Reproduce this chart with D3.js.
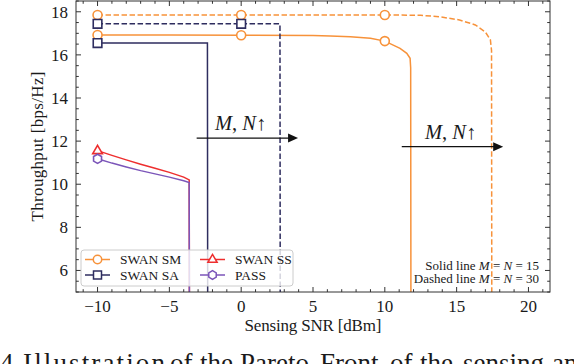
<!DOCTYPE html>
<html><head><meta charset="utf-8">
<script src="https://cdn.jsdelivr.net/npm/d3@7/dist/d3.min.js"></script>
<style>body{margin:0;background:#fff}svg{display:block}</style>
</head><body><svg id="c" width="574" height="364"></svg>
<script>
// ---- data ----
const smSolidX = [-10,-5,0,5,6.2,7.6,9.0,10,11.06,11.53,11.76,11.8,11.82];
const smSolidY = [16.92,16.92,16.91,16.9,16.88,16.84,16.77,16.64,16.3,16.07,15.84,15.4,3];
const smDashX = [-10,-5,0,5,10,12.5,13.9,15.2,16.3,17.0,17.35,17.43,17.45];
const smDashY = [17.85,17.85,17.85,17.85,17.85,17.84,17.76,17.62,17.39,17.06,16.7,16.2,3];
const saSolidX = [-10,-5,-2.35,-2.33];
const saSolidY = [16.55,16.55,16.55,3];
const saDashX = [-10,0,2.7,2.72];
const saDashY = [17.44,17.44,17.44,3];
const ssX = [-10,-9,-8,-7,-6,-5,-4,-3.62,-3.6];
const ssY = [11.56,11.34,11.13,10.93,10.74,10.55,10.33,10.2,3];
const passX = [-10,-9,-8,-7,-6,-5,-4,-3.62,-3.6];
const passY = [11.18,10.98,10.8,10.63,10.48,10.33,10.16,10.08,3];
const xTicks = [-10,-5,0,5,10,15,20];
const yTicks = [6,8,10,12,14,16,18];
const legendLabels = ["SWAN SM","SWAN SA","SWAN SS","PASS"];
const captionWords = ["4.","Illustration","of","the","Pareto","Front","of","the","sensing","and"];
const captionX = [0,23,170,200,240,320,390,420,463,552];

const colors = {sm:"#f7923a", sa:"#2e2d5f", ss:"#ee2e2e", pass:"#7b55b9"};

const svg = d3.select("#c");
const L=76,R=550,T=1,B=292;
const x = d3.scaleLinear().domain([-11.5,21.5]).range([L,R]);
const y = d3.scaleLinear().domain([5,18.5]).range([B,T]);

svg.append("defs").append("clipPath").attr("id","clip")
  .append("rect").attr("x",L).attr("y",T).attr("width",R-L).attr("height",B-T);

const g = svg.append("g").attr("clip-path","url(#clip)");
const line = d3.line().x(d=>x(d[0])).y(d=>y(d[1]));
const zip=(a,b)=>a.map((v,i)=>[v,b[i]]);

function sym(type,size){
  if(type==="hex"){
    const r=size; const pts=d3.range(6).map(i=>{const a=Math.PI/6+i*Math.PI/3;return [r*Math.cos(a),r*Math.sin(a)];});
    return "M"+pts.map(p=>p.join(",")).join("L")+"Z";
  }
  if(type==="circle") return d3.symbol(d3.symbolCircle, Math.PI*size*size)();
  if(type==="square") return `M${-size},${-size}H${size}V${size}H${-size}Z`;
  if(type==="tri"){ const s=size; return `M0,${-s*1.15}L${s*1.05},${s*0.65}L${-s*1.05},${s*0.65}Z`; }
}

const series = [
  {xs:smSolidX, ys:smSolidY, c:colors.sm, dash:null, m:"circle", mx:[-10,0,10], ms:4.5},
  {xs:smDashX, ys:smDashY, c:colors.sm, dash:"5.5,2.5", m:"circle", mx:[-10,0,10], ms:4.5},
  {xs:saSolidX, ys:saSolidY, c:colors.sa, dash:null, m:"square", mx:[-10], ms:4.3},
  {xs:saDashX, ys:saDashY, c:colors.sa, dash:"5.5,2.5", m:"square", mx:[-10,0], ms:4.3},
  {xs:ssX, ys:ssY, c:colors.ss, dash:null, m:"tri", mx:[-10], ms:4.6},
  {xs:passX, ys:passY, c:colors.pass, dash:null, m:"hex", mx:[-10], ms:4.6},
];
series.forEach(s=>{
  g.append("path").attr("d",line(zip(s.xs,s.ys))).attr("fill","none")
   .attr("stroke",s.c).attr("stroke-width",1.5).attr("stroke-dasharray",s.dash);
});
series.forEach(s=>{
  s.mx.forEach(mx=>{
    const i=s.xs.indexOf(mx);
    g.append("path").attr("d",sym(s.m,s.ms))
     .attr("transform",`translate(${x(mx)},${y(s.ys[i])})`)
     .attr("fill","#fff").attr("stroke",s.c).attr("stroke-width",1.6);
  });
});

// axes
const ax = svg.append("g");
const spine="#333";
ax.append("rect").attr("x",L).attr("y",T).attr("width",R-L).attr("height",B-T)
  .attr("fill","none").attr("stroke",spine).attr("stroke-width",1);
const xMinor = d3.range(-11,22,1).filter(v=>!xTicks.includes(v));
const yMinor = d3.range(5,18.51,0.5).filter(v=>!yTicks.includes(v));
function tickX(vals,len){vals.forEach(v=>{
  ax.append("line").attr("x1",x(v)).attr("x2",x(v)).attr("y1",B).attr("y2",B-len).attr("stroke",spine);
  ax.append("line").attr("x1",x(v)).attr("x2",x(v)).attr("y1",T).attr("y2",T+len).attr("stroke",spine);
});}
function tickY(vals,len){vals.forEach(v=>{
  ax.append("line").attr("y1",y(v)).attr("y2",y(v)).attr("x1",L).attr("x2",L+len).attr("stroke",spine);
  ax.append("line").attr("y1",y(v)).attr("y2",y(v)).attr("x1",R).attr("x2",R-len).attr("stroke",spine);
});}
tickX(xTicks,5);tickX(xMinor,2.8);tickY(yTicks,5);tickY(yMinor,2.8);
const fmt=d3.format("d");
const T_ = (sel)=>sel.style("font-family",'"Liberation Serif"').attr("fill","#1a1a1a");
xTicks.forEach(v=>T_(ax.append("text")).attr("x",x(v)).attr("y",312).attr("text-anchor","middle")
  .attr("font-size",17).text(fmt(v)));
yTicks.forEach(v=>T_(ax.append("text")).attr("x",68).attr("y",y(v)+5.8).attr("text-anchor","end")
  .attr("font-size",17).text(fmt(v)));
T_(ax.append("text")).attr("x",(L+R)/2).attr("y",331).attr("text-anchor","middle").attr("font-size",17)
  .attr("textLength",137).attr("lengthAdjust","spacing").text("Sensing SNR [dBm]");
T_(ax.append("text")).attr("transform",`translate(43,${(T+B)/2}) rotate(-90)`).attr("text-anchor","middle")
  .attr("font-size",17).attr("textLength",150).attr("lengthAdjust","spacing").text("Throughput [bps/Hz]");

// arrows
const arrows=[{x0:-3.1,x1:3.96,y:12.14,tx:-1.82,ty:12.5},{x0:11.18,x1:18.24,y:11.74,tx:12.8,ty:12.1}];
arrows.forEach(a=>{
  ax.append("line").attr("x1",x(a.x0)).attr("x2",x(a.x1)-8).attr("y1",y(a.y)).attr("y2",y(a.y))
    .attr("stroke","#111").attr("stroke-width",1.2);
  const tx=x(a.x1),ty=y(a.y);
  ax.append("path").attr("d",`M${tx},${ty}L${tx-10},${ty-4.5}L${tx-10},${ty+4.5}Z`).attr("fill","#111");
  const t=T_(ax.append("text")).attr("x",x(a.tx)).attr("y",y(a.ty)).attr("font-size",20.5);
  t.append("tspan").attr("font-style","italic").text("M");
  t.append("tspan").text(", ");
  t.append("tspan").attr("font-style","italic").text("N");
  t.append("tspan").text("\u2191");
});

// annotation
[["Solid line ","15",270],["Dashed line ","30",283]].forEach(r=>{
  const t=T_(ax.append("text")).attr("x",539).attr("y",r[2]).attr("text-anchor","end").attr("font-size",13);
  t.append("tspan").text(r[0]);
  t.append("tspan").attr("font-style","italic").text("M");
  t.append("tspan").text(" = ");
  t.append("tspan").attr("font-style","italic").text("N");
  t.append("tspan").text(" = "+r[1]);
});

// legend
const lg=svg.append("g");
lg.append("rect").attr("x",81).attr("y",250).attr("width",212).attr("height",36).attr("rx",3)
  .attr("fill","#fff").attr("fill-opacity",0.8).attr("stroke","#ccc").attr("stroke-width",1);
const legSeries=[{c:colors.sm,m:"circle",ms:4.2},{c:colors.sa,m:"square",ms:4},{c:colors.ss,m:"tri",ms:4.4},{c:colors.pass,m:"hex",ms:4.3}];
legendLabels.forEach((lab,i)=>{
  const col=Math.floor(i/2), row=i%2;
  const lx=85+col*115, ly=259.5+row*15.5;
  const s=legSeries[i];
  lg.append("line").attr("x1",lx).attr("x2",lx+25).attr("y1",ly).attr("y2",ly).attr("stroke",s.c).attr("stroke-width",1.5);
  lg.append("path").attr("d",sym(s.m,s.ms)).attr("transform",`translate(${lx+12.5},${ly})`)
    .attr("fill","#fff").attr("stroke",s.c).attr("stroke-width",1.5);
  T_(lg.append("text")).attr("x",lx+35).attr("y",ly+4.5).attr("font-size",13.5).text(lab);
});

// caption (cut off at bottom, as in the reference)
const cap=T_(svg.append("text")).attr("y",372).attr("font-size",27);
captionWords.forEach((w,i)=>{
  const ts=cap.append("tspan").attr("x",captionX[i]).text(w);
  if(w==="Illustration") ts.attr("textLength",142).attr("lengthAdjust","spacing");
});
</script></body></html>
